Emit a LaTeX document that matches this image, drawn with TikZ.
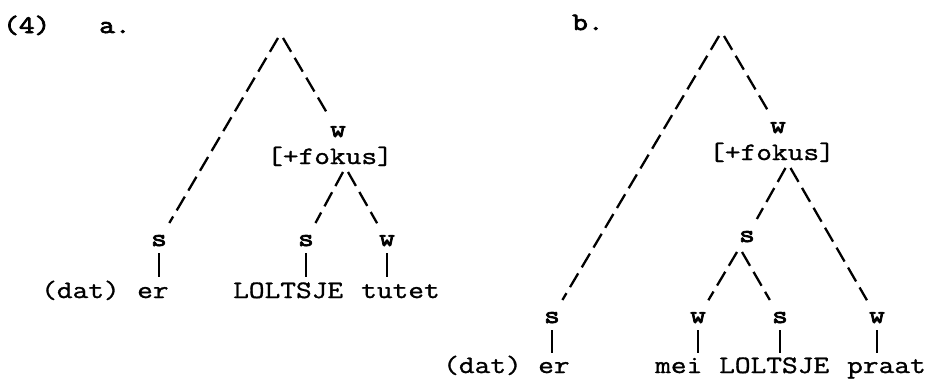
\documentclass[tikz,border=0pt]{standalone}
\usepackage{fontspec}
\newfontfamily\courR{Latin Modern Mono}[FakeStretch=1.22, FakeBold=1.2]
\newfontfamily\courB{Latin Modern Mono}[FakeStretch=1.22, FakeBold=3]
\usetikzlibrary{calc}
\begin{document}
\begin{tikzpicture}[x=1pt,y=-1pt,
  lab/.style={font=\fontsize{25}{30}\selectfont\courB, inner sep=0pt, outer xsep=3pt, outer ysep=12pt, anchor=base},
  hdr/.style={font=\fontsize{25}{30}\selectfont\courB, inner sep=0pt, anchor=base west},
  feat/.style={font=\fontsize{25}{30}\selectfont\courR, inner sep=0pt, anchor=base},
  wrd/.style={font=\fontsize{25}{30}\selectfont\courR, inner sep=0pt, anchor=base west},
  jn/.style={inner sep=0pt, minimum width=5pt, minimum height=0pt, outer sep=0pt},
  dl/.style={line width=2.3pt, dash pattern=on 16pt off 7pt},
  bar/.style={line width=2.2pt}]
\useasboundingbox (0,0) rectangle (928,380);

% headers
\node[hdr] (n4) at (3,33) {(4)};
\node[hdr] (ha) at (99,33) {a.};
\node[hdr] (hb) at (572,30) {b.};

% ---------- tree a ----------
\node[jn] (rA) at (280.5,38) {};
\node[lab] (wA) at (338,137) {w};
\node[feat] (fA) at (330,164) {[+fokus]};
\node[jn] (kA) at (345.5,172) {};
\node[lab] (sA1) at (159,246) {s};
\node[lab] (sA2) at (306,246) {s};
\node[lab] (wA2) at (387,246) {w};
\node[wrd] (datA) at (41,298) {(dat)};
\node[wrd] (erA) at (137,298) {er};
\node[wrd] (lolA) at (233,298) {LOLTSJE};
\node[wrd] (tutA) at (361,298) {tutet};

\draw[dl] (rA.west) -- (sA1);
\draw[dl] (rA.east) -- (wA);
\draw[dl] (kA.west) -- (sA2);
\draw[dl] (kA.east) -- (wA2);
\foreach \l/\w in {sA1/erA, sA2/lolA, wA2/tutA}
  \draw[bar] ($(\l.base)+(0,7)$) -- ($(\l.base |- \w.base)+(0,-21)$);

% ---------- tree b ----------
\node[jn] (rB) at (721.5,36) {};
\node[lab] (wB) at (778,133) {w};
\node[feat] (fB) at (772,160) {[+fokus]};
\node[jn] (kB) at (788,168) {};
\node[lab] (sBm) at (747,242) {s};
\node[jn] (mB) at (739.5,252) {};
\node[lab] (sBl) at (552,323) {s};
\node[lab] (wBm) at (698,323) {w};
\node[lab] (sBr) at (780,323) {s};
\node[lab] (wBr) at (877,323) {w};
\node[wrd] (datB) at (443,373) {(dat)};
\node[wrd] (erB) at (538,373) {er};
\node[wrd] (meiB) at (655,373) {mei};
\node[wrd] (lolB) at (719,373) {LOLTSJE};
\node[wrd] (praB) at (847,373) {praat};

\draw[dl] (rB.west) -- (sBl);
\draw[dl] (rB.east) -- (wB);
\draw[dl] (kB.west) -- (sBm);
\draw[dl] (kB.east) -- (wBr);
\draw[dl] (mB.west) -- (wBm);
\draw[dl] (mB.east) -- (sBr);
\foreach \l/\w in {sBl/erB, wBm/meiB, sBr/lolB, wBr/praB}
  \draw[bar] ($(\l.base)+(0,7)$) -- ($(\l.base |- \w.base)+(0,-20)$);
\end{tikzpicture}
\end{document}
